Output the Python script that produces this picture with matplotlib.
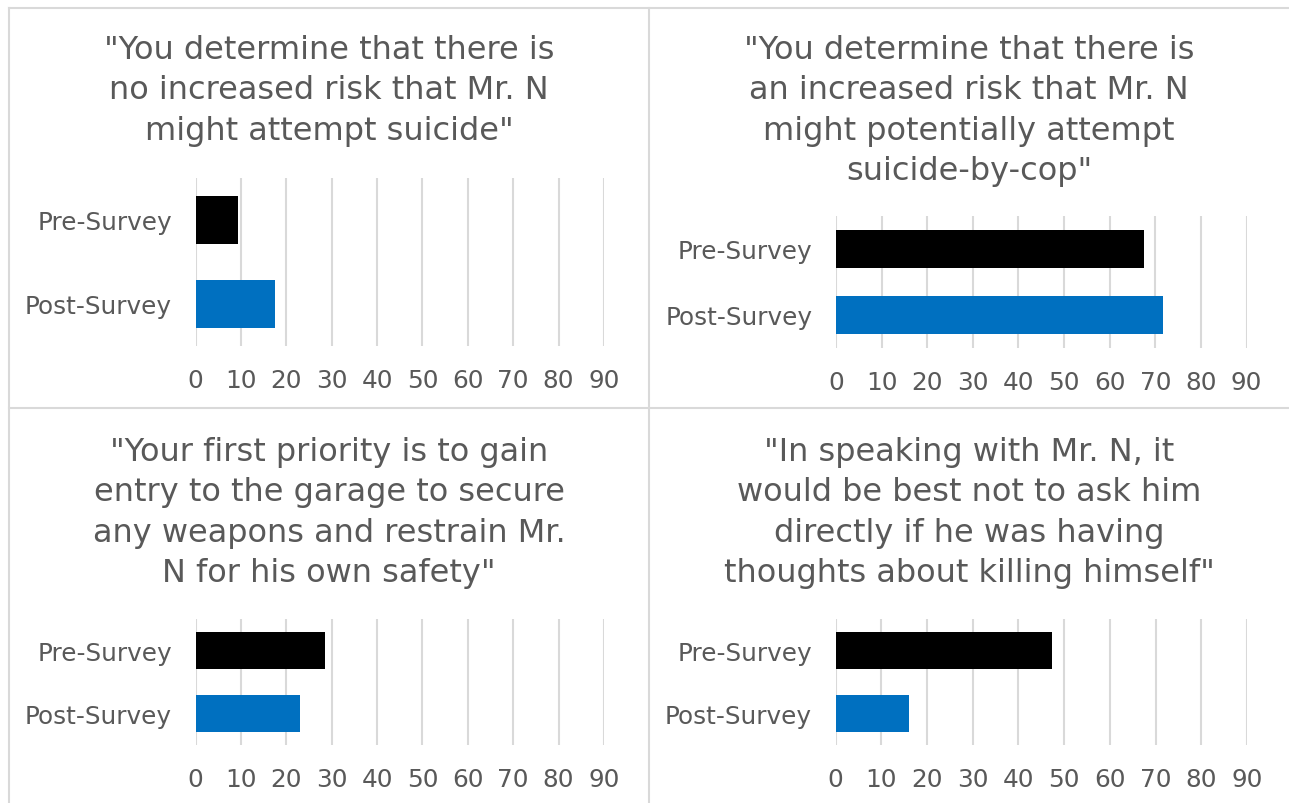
import matplotlib.pyplot as plt
from matplotlib.lines import Line2D

# survey responses (percent agreeing), pre vs post training
categories = ["Pre-Survey", "Post-Survey"]
titles = [
    '"You determine that there is\nno increased risk that Mr. N\nmight attempt suicide"',
    '"You determine that there is\nan increased risk that Mr. N\nmight potentially attempt\nsuicide-by-cop"',
    '"Your first priority is to gain\nentry to the garage to secure\nany weapons and restrain Mr.\nN for his own safety"',
    '"In speaking with Mr. N, it\nwould be best not to ask him\ndirectly if he was having\nthoughts about killing himself"',
]
pre_values = [9.4, 67.5, 28.6, 47.4]
post_values = [17.5, 71.8, 23.1, 16.1]
ticks = [0, 10, 20, 30, 40, 50, 60, 70, 80, 90]

W, H = 1289, 804
fig = plt.figure(figsize=(W / 100, H / 100), dpi=100)
grey = "#595959"
line_col = "#d9d9d9"

# axes boxes in pixels: left, top, right, bottom
boxes = [
    (195.5, 179, 604, 347),
    (836, 217, 1246.5, 349),
    (195.5, 620, 604, 746),
    (835.5, 620, 1247, 746),
]
title_centers = [(329, 35), (969, 35), (329, 437), (969, 437)]

for i in range(4):
    l, t, r, b = boxes[i]
    ax = fig.add_axes([l / W, 1 - b / H, (r - l) / W, (b - t) / H])
    ax.barh([1, 0], [pre_values[i], post_values[i]], height=0.58,
            color=["#000000", "#0070C0"], zorder=3)
    ax.set_xlim(0, 90)
    ax.set_ylim(-0.5, 1.5)
    ax.set_xticks(ticks)
    ax.set_yticks([1, 0])
    ax.set_yticklabels(categories)
    ax.grid(axis="x", color=line_col, linewidth=1.5, zorder=0)
    for s in ax.spines.values():
        s.set_visible(False)
    ax.tick_params(length=0, labelsize=17.8, labelcolor=grey)
    ax.tick_params(axis="x", pad=16)
    ax.tick_params(axis="y", pad=17)

    cx, cy = title_centers[i]
    fig.text(cx / W, 1 - cy / H, titles[i], ha="center", va="top",
             fontsize=23, color=grey, linespacing=1.39)

# panel borders
def hline(y, x0, x1):
    fig.add_artist(Line2D([x0 / W, x1 / W], [1 - y / H, 1 - y / H],
                          color=line_col, linewidth=1.5))

def vline(x, y0, y1):
    fig.add_artist(Line2D([x / W, x / W], [1 - y0 / H, 1 - y1 / H],
                          color=line_col, linewidth=1.5))

hline(9, 9, W)
hline(409, 9, W)
vline(9, 9, H)
vline(649, 9, H)

fig.savefig("out.png", dpi=100)
